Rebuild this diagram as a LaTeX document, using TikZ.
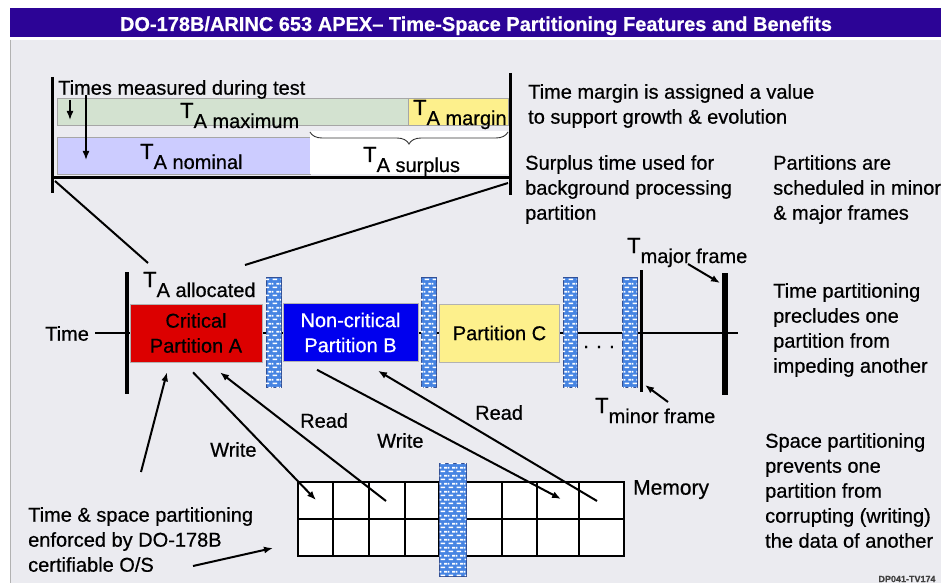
\documentclass[tikz,border=0pt]{standalone}
\usepackage{fontspec}
\setmainfont{Liberation Sans}[FakeBold=0.6]
\usetikzlibrary{arrows.meta,decorations.pathreplacing,patterns}

\definecolor{titlebg}{RGB}{44,4,150}
\definecolor{panelbg}{RGB}{235,235,240}
\definecolor{maxgreen}{RGB}{211,226,208}
\definecolor{margyellow}{RGB}{253,240,140}
\definecolor{nomlav}{RGB}{204,204,255}
\definecolor{partred}{RGB}{220,0,0}
\definecolor{partblue}{RGB}{0,0,238}
\definecolor{brickblue}{RGB}{70,132,226}
\definecolor{brickedge}{RGB}{50,80,150}

% small brick tile for the partition walls
\pgfdeclarepatternformonly{wallbricks}{\pgfpointorigin}{\pgfpoint{8pt}{8pt}}{\pgfpoint{8pt}{8pt}}{%
  \pgfpathrectangle{\pgfpoint{0.6pt}{0.9pt}}{\pgfpoint{5pt}{1.8pt}}%
  \pgfpathrectangle{\pgfpoint{4.6pt}{4.9pt}}{\pgfpoint{3.4pt}{1.8pt}}%
  \pgfpathrectangle{\pgfpoint{0pt}{4.9pt}}{\pgfpoint{1.6pt}{1.8pt}}%
  \pgfusepath{fill}}

% T with a large subscript
\newcommand\Tlab[1]{{\fontsize{22}{22}\selectfont T}\raisebox{-10pt}{\fontsize{20}{20}\selectfont #1}}

\begin{document}
\begin{tikzpicture}[x=1pt,y=-1pt,
  body/.style={font=\fontsize{20}{25}\selectfont, inner sep=0pt, align=left, anchor=north west},
  tlabel/.style={inner sep=0pt, anchor=base west},
  bar/.style={draw=gray!70, line width=0.6pt, inner sep=0pt},
  wall/.style={draw=brickedge, line width=0.6pt, fill=brickblue,
    postaction={pattern=wallbricks, pattern color=white},
    minimum width=15pt, minimum height=110pt, inner sep=0pt},
  part/.style={draw=gray!60, line width=0.6pt, minimum height=58pt, inner sep=0pt,
    align=center, font=\fontsize{20}{25}\selectfont},
  framebar/.style={line width=3pt},
  conn/.style={line width=2pt},
  arr/.style={line width=2pt, -{Latex[length=9pt,width=7pt]}},
  cell/.style={line width=1.3pt}]

\useasboundingbox (0,0) rectangle (941,585);
\fill[white] (0,0) rectangle (941,585);
\fill[panelbg] (10,40) rectangle (941,583);
\draw[gray!60, line width=0.8pt] (10,40) -- (10,583);

% title bar
\fill[titlebg] (10,8) rectangle (941,37);
\node[text=white, font=\fontsize{20}{20}\selectfont\bfseries, anchor=base, inner sep=0pt]
  (title) at (476,31) {DO-178B/ARINC 653 APEX-- Time-Space Partitioning Features and Benefits};

% ---------- time budget bracket ----------
\node[bar, fill=maxgreen, minimum width=351pt, minimum height=27pt] (tmax) at (232.5,111.5) {};
\node[bar, fill=margyellow, minimum width=100pt, minimum height=27pt] (tmarg) at (458,111.5) {};
\node[bar, fill=nomlav, minimum width=253pt, minimum height=37pt] (tnom) at (183.5,155.5) {};
\fill[white] (310,131) rectangle (508,174);
\draw[decorate, decoration={brace, mirror, amplitude=12pt}, line width=0.9pt, black!80]
  (310,132) -- (508,132);

\coordinate (bl1) at (52,77);   \coordinate (bl2) at (52,193);
\coordinate (br1) at (510,73);  \coordinate (br2) at (510,195);
\coordinate (bh1) at (52,178);  \coordinate (bh2) at (510,178);
\draw[framebar] (bl1) -- (bl2);
\draw[framebar] (br1) -- (br2);
\draw[framebar] (bh1) -- (bh2);

\node[body] (meas) at (58,80) {Times measured during test};
\coordinate (m1a) at (70,100);  \coordinate (m1b) at (70,120);
\coordinate (m2a) at (86,95);   \coordinate (m2b) at (86,160);
\draw[arr, line width=1.6pt] (m1a) -- (m1b);
\draw[arr, line width=1.6pt] (m2a) -- (m2b);

\node[tlabel] (lmax) at (180,118) {\Tlab{A maximum}};
\node[tlabel] (lmarg) at (413,115) {\Tlab{A margin}};
\node[tlabel] (lnom) at (140,159) {\Tlab{A nominal}};
\node[tlabel] (lsur) at (363,162) {\Tlab{A surplus}};

\node[body] (note1) at (528,84) {Time margin is assigned a value\\to support growth \& evolution};
\node[body] (note2) at (525,155) {Surplus time used for\\background processing\\partition};
\node[body] (note3) at (773,155) {Partitions are\\scheduled in minor\\\& major frames};

% ---------- time line ----------
\node[font=\fontsize{20}{25}\selectfont, inner sep=0pt, anchor=north west] (time) at (45,326) {Time};
\coordinate (t0) at (95,333);
\coordinate (t1) at (127,333);
\coordinate (t2) at (738,333);
\draw[line width=2.5pt] (t0) -- (t1);
\draw[line width=2.5pt] (t1) -- (t2);
\coordinate (va) at (127,272);  \coordinate (vb) at (127,394);
\draw[line width=3.5pt] (va) -- (vb);

\node[tlabel] (lalloc) at (143,287) {\Tlab{A allocated}};

\node[part, fill=partred, text=black, minimum width=132pt] (A) at (196,333)
  {Critical\\Partition A};
\node[wall] (w1) at (273.5,332) {};
\node[part, fill=partblue, text=white, minimum width=135pt] (B) at (350.5,332.5)
  {Non-critical\\Partition B};
\node[wall] (w2) at (428.5,332) {};
\node[part, fill=margyellow, minimum width=120pt] (C) at (499.5,333) {Partition C};
\node[wall, minimum width=14pt] (w3) at (570,332) {};
\node[font=\fontsize{20}{25}\selectfont, inner sep=0pt] (dots) at (599,347) {. . .};
\node[wall] (w4) at (629.5,332) {};

\coordinate (mn1) at (641,270);  \coordinate (mn2) at (641,392);
\draw[line width=3pt] (mn1) -- (mn2);
\coordinate (mj1) at (725,273);  \coordinate (mj2) at (725,395);
\draw[line width=6pt] (mj1) -- (mj2);

\node[tlabel] (lmajor) at (627,253) {\Tlab{major frame}};
\node[tlabel] (lminor) at (595,413) {\Tlab{minor frame}};
\coordinate (aj1) at (688,264);  \coordinate (aj2) at (720,283);
\draw[arr] (aj1) -- (aj2);
\coordinate (an1) at (668,402);  \coordinate (an2) at (645,385);
\draw[arr] (an1) -- (an2);

% bracket to allocated slot
\coordinate (c1a) at (55,181);   \coordinate (c1b) at (148,263);
\coordinate (c2a) at (508,183);  \coordinate (c2b) at (245,265);
\draw[conn] (c1a) -- (c1b);
\draw[conn] (c2a) -- (c2b);

\node[body] (note4) at (773,283) {Time partitioning\\precludes one\\partition from\\impeding another};

% ---------- memory ----------
\draw[cell, fill=white] (298,482) rectangle (439,556);
\draw[cell] (298,519) -- (439,519);
\foreach \cx in {333,369,405} \draw[cell] (\cx,482) -- (\cx,556);
\draw[cell, fill=white] (466,482) rectangle (624,556);
\draw[cell] (466,519) -- (624,519);
\foreach \cx in {502,537,579} \draw[cell] (\cx,482) -- (\cx,556);
\node[wall, minimum width=27pt, minimum height=113pt] (wm) at (452.5,519.5) {};
\node[font=\fontsize{21}{25}\selectfont, inner sep=0pt, anchor=north west] (mem) at (633,480) {Memory};

\coordinate (wa) at ([xshift=-3pt,yshift=-10pt]A.south);
\coordinate (wa2) at (316,500);
\draw[arr] (wa) -- (wa2);
\coordinate (ra) at (386,501);
\coordinate (ra2) at ([xshift=24pt,yshift=-10pt]A.south);
\draw[arr] (ra) -- (ra2);
\coordinate (wb) at ([xshift=-33.5pt,yshift=-8pt]B.south);
\coordinate (wb2) at (561,499);
\draw[arr] (wb) -- (wb2);
\coordinate (rb) at (597,501);
\coordinate (rb2) at ([xshift=27.5pt,yshift=-9pt]B.south);
\draw[arr] (rb) -- (rb2);

\node[body] (lw1) at (210,442) {Write};
\node[body] (lr1) at (300,413) {Read};
\node[body] (lw2) at (377,433) {Write};
\node[body] (lr2) at (475,405) {Read};

\node[body] (note5) at (28,507) {Time \& space partitioning\\enforced by DO-178B\\certifiable O/S};
\coordinate (os1) at (141,472);
\coordinate (os2) at ([xshift=-29pt,yshift=-10pt]A.south);
\draw[arr] (os1) -- (os2);
\coordinate (os3) at (193,566);  \coordinate (os4) at (273,548);
\draw[arr] (os3) -- (os4);

\node[body] (note6) at (765,433) {Space partitioning\\prevents one\\partition from\\corrupting (writing)\\the data of another};

\node[font=\fontsize{9}{9}\selectfont\bfseries, text=black!75, inner sep=0pt] (code) at (907,579) {DP041-TV174};
\end{tikzpicture}
\end{document}
